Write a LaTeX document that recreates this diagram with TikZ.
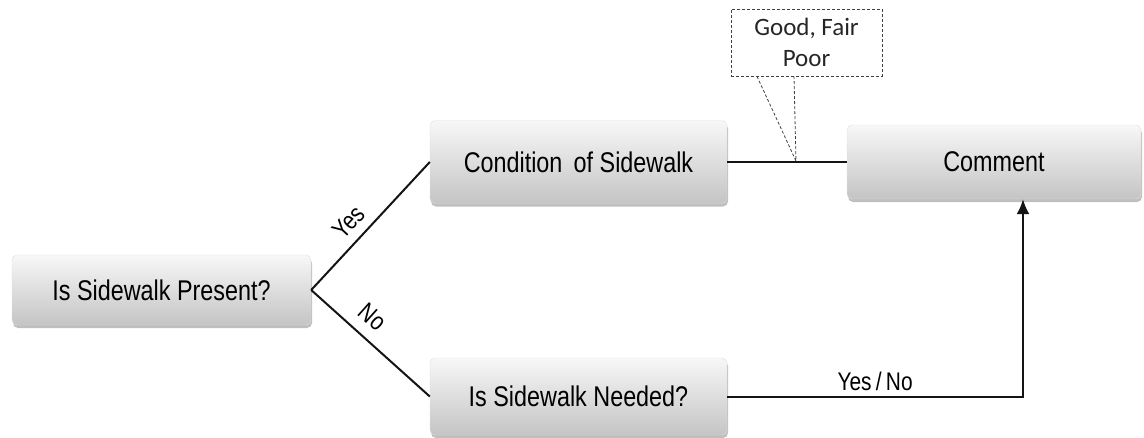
\documentclass[tikz,border=0pt]{standalone}
\usepackage{fontspec}
\usetikzlibrary{shadows,arrows.meta}
\newfontfamily\boxfont[FakeStretch=0.82]{Liberation Sans}
\newfontfamily\notefont{Carlito}
\begin{document}
\begin{tikzpicture}[x=1pt,y=-1pt,
  decision/.style={rounded corners=5pt, top color=white!97!black, bottom color=white!77!black,
    draw=white!88!black, line width=0.4pt,
    drop shadow={shadow xshift=1pt, shadow yshift=-3pt, opacity=0.25, fill=black},
    font=\boxfont\fontsize{28.5}{34}\selectfont, text=black, inner sep=0pt},
  link/.style={line width=2pt, draw=black!92},
  edgelabel/.style={font=\boxfont\fontsize{25.5}{30}\selectfont, text=black, inner sep=1pt},
  callout/.style={draw=black!75, line width=0.8pt, dash pattern=on 3pt off 2pt}
]
\useasboundingbox (0,0) rectangle (1144,437);

% decision boxes
\node[decision, minimum width=299pt, minimum height=70pt] (present) at (161.5,290) {Is Sidewalk Present?};
\node[decision, minimum width=297pt, minimum height=83pt] (condition) at (578.5,162) {Condition\, of Sidewalk};
\node[decision, minimum width=294pt, minimum height=74pt] (comment) at (994,162) {Comment};
\node[decision, minimum width=297pt, minimum height=77pt] (needed) at (578.5,396.5) {Is Sidewalk Needed?};

% branches out of the first question
\draw[link] (present.east) -- node[edgelabel, sloped, above=8pt, pos=0.43] {Yes} (condition.west);
\draw[link] (present.east) -- node[edgelabel, sloped, above=10pt, pos=0.40] {No} (needed.west);

% condition feeds the comment
\draw[link] (condition.east) -- (comment.west);
\coordinate (tip) at (796,161);

% yes/no answer routed up into the comment box
\draw[link, -{Latex[length=15pt,width=13pt]}] (needed.east) -| node[edgelabel, above=4pt, pos=0.25] {Yes\,/\,No} ([xshift=29pt]comment.south);

% dashed callout with the condition ratings
\node[callout, minimum width=151pt, minimum height=67pt, align=center, inner sep=0pt,
      font=\notefont\fontsize{25}{31}\selectfont, text=black!85] (ratings) at (806.5,42.5) {Good, Fair\\Poor};
\draw[callout] ([xshift=-49.5pt]ratings.south) -- (tip) -- ([xshift=-12.5pt]ratings.south);
\end{tikzpicture}
\end{document}
